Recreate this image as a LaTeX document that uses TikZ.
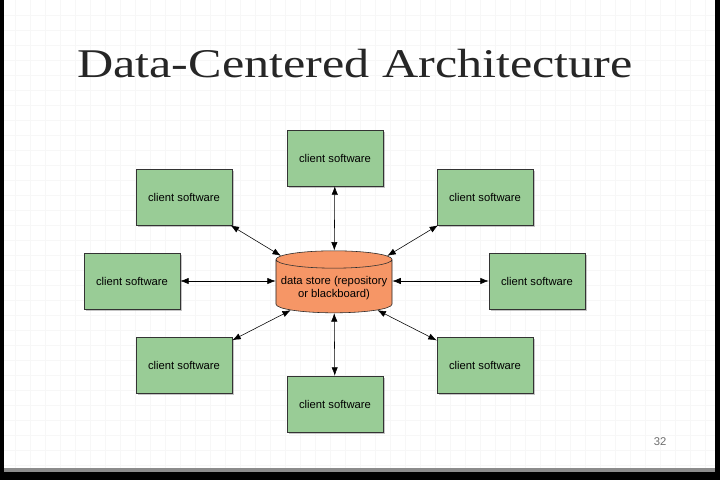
\documentclass[tikz,border=0pt]{standalone}
\usepackage{fontspec}
\setmainfont{Liberation Serif}
\newfontfamily\boxfont{Liberation Sans}
\usetikzlibrary{arrows.meta,shapes.geometric,shadows,positioning}
\definecolor{ClientGreen}{RGB}{153,204,150}
\definecolor{StoreOrange}{RGB}{246,150,102}
\definecolor{GridGray}{RGB}{247,247,247}
\definecolor{NumGray}{RGB}{110,110,110}

\tikzset{
  client/.style={draw=black!80,fill=ClientGreen,minimum width=2.4cm,minimum height=1.4cm,
    font=\boxfont\fontsize{8}{9.5}\selectfont,
    drop shadow={shadow xshift=1.5pt,shadow yshift=-1.5pt,opacity=0.45}},
  store/.style={cylinder,shape border rotate=90,aspect=0.15,draw=black!85,
    cylinder uses custom fill,cylinder body fill=StoreOrange,cylinder end fill=StoreOrange,
    minimum width=2.9cm,minimum height=1.55cm,align=center,
    font=\boxfont\fontsize{8}{9.5}\selectfont},
  link/.style={{Latex[length=6pt,width=4.5pt]}-{Latex[length=6pt,width=4.5pt]},black,thin}
}

\begin{document}
\begin{tikzpicture}[x=0.025cm,y=-0.025cm]
      \useasboundingbox (0,0) rectangle (720,480);
      \fill[white] (0,0) rectangle (720,480);
      % faint grid behind the slide
      \foreach \gx in {15,30,...,705} \draw[GridGray,very thin] (\gx,0)--(\gx,468);
      \foreach \gy in {15,30,...,465} \draw[GridGray,very thin] (0,\gy)--(715,\gy);
      % slide edges
      \fill[black] (0,0) rectangle (4,480);
      \fill[black] (715,0) rectangle (720,480);
      \fill[black] (0,472) rectangle (720,480);
      \fill[black!45] (4,468) rectangle (715,472);

      \node[anchor=base,font=\fontsize{29}{34}\selectfont,text=black!85,xscale=1.23] (title) at (355,77)
        {Data-Centered Architecture};

      \node[store] (ds) at (334,288) {data store (repository\\or blackboard)};

      \node[client] (top) at (335,158) {client software};
      \node[client] (ul) at (184,197) {client software};
      \node[client] (ur) at (485,197) {client software};
      \node[client] (lft) at (132,281) {client software};
      \node[client] (rgt) at (537,281) {client software};
      \node[client] (ll) at (184,365) {client software};
      \node[client] (lr) at (485,365) {client software};
      \node[client] (bot) at (335,404) {client software};

      \foreach \c in {top,ul,ur,ll,lr,bot}
        \draw[link] (\c)--(ds);
      \draw[link] (lft.east)--(lft.east -| ds.west);
      \draw[link] (rgt.west)--(rgt.west -| ds.east);

      \node[font=\boxfont\fontsize{8}{9}\selectfont,text=NumGray] (pnum) at (660,442) {32};
    \end{tikzpicture}
\end{document}
